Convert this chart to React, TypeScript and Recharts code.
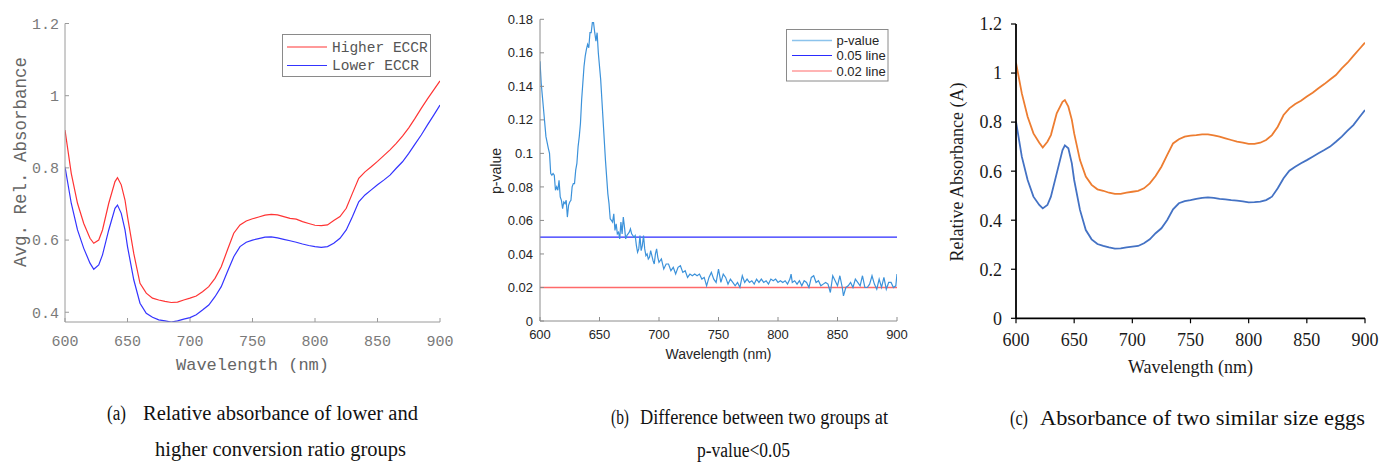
import React from 'react';
import { LineChart, Line, XAxis, YAxis, ReferenceLine, Legend, Label } from 'recharts';

// ---------- data ----------
const wavelengthAC = [
  600, 605, 610, 615, 620, 623, 627, 630, 635, 640, 642, 645, 648, 650,
  655, 660, 665, 670, 675, 680, 685, 690, 695, 700,
  705, 710, 715, 720, 725, 730, 735, 740, 745, 750,
  755, 760, 765, 770, 775, 780, 785, 790, 795, 800,
  805, 810, 815, 820, 825, 830, 835, 840, 845, 850,
  855, 860, 865, 870, 875, 880, 885, 890, 895, 900,
];
const higherECCR = [
  0.905, 0.785, 0.702, 0.646, 0.605, 0.591, 0.6, 0.628, 0.702, 0.762, 0.773, 0.753, 0.711, 0.665,
  0.563, 0.48, 0.453, 0.439, 0.434, 0.43, 0.427, 0.428, 0.434, 0.439,
  0.445, 0.457, 0.471, 0.494, 0.526, 0.573, 0.619, 0.642, 0.653, 0.659,
  0.664, 0.669, 0.671, 0.67, 0.665, 0.66, 0.658, 0.651, 0.646, 0.641,
  0.64, 0.642, 0.654, 0.665, 0.688, 0.73, 0.771, 0.789, 0.803, 0.818,
  0.834, 0.85, 0.868, 0.888, 0.911, 0.937, 0.965, 0.991, 1.016, 1.041,
];
const lowerECCR = [
  0.803, 0.702, 0.628, 0.577, 0.536, 0.519, 0.531, 0.559, 0.628, 0.688, 0.697, 0.674, 0.628, 0.582,
  0.49, 0.425, 0.397, 0.386, 0.379, 0.376, 0.373, 0.376, 0.381, 0.385,
  0.393, 0.406, 0.42, 0.443, 0.471, 0.513, 0.554, 0.582, 0.594, 0.6,
  0.604, 0.608, 0.609, 0.606, 0.602, 0.598, 0.594, 0.589, 0.585, 0.582,
  0.58, 0.582, 0.591, 0.605, 0.628, 0.665, 0.706, 0.725, 0.739, 0.753,
  0.766, 0.78, 0.799, 0.817, 0.84, 0.866, 0.891, 0.919, 0.946, 0.974,
];
const eggOrange = [
  1.042, 0.917, 0.822, 0.754, 0.716, 0.696, 0.72, 0.747, 0.836, 0.883, 0.89, 0.863, 0.809, 0.754,
  0.645, 0.578, 0.544, 0.526, 0.52, 0.512, 0.507, 0.507, 0.512, 0.516,
  0.52, 0.53, 0.55, 0.58, 0.618, 0.666, 0.713, 0.73, 0.741, 0.745,
  0.747, 0.75, 0.75, 0.746, 0.741, 0.734, 0.727, 0.72, 0.716, 0.711,
  0.711, 0.716, 0.727, 0.747, 0.781, 0.829, 0.856, 0.874, 0.887, 0.904,
  0.92, 0.938, 0.955, 0.974, 0.992, 1.019, 1.042, 1.07, 1.097, 1.124,
];
const eggBlue = [
  0.802, 0.659, 0.564, 0.496, 0.462, 0.448, 0.462, 0.496, 0.591, 0.686, 0.705, 0.693, 0.632, 0.564,
  0.442, 0.36, 0.322, 0.303, 0.295, 0.289, 0.284, 0.285, 0.289, 0.292,
  0.295, 0.306, 0.322, 0.347, 0.367, 0.401, 0.444, 0.469, 0.478, 0.482,
  0.487, 0.491, 0.493, 0.491, 0.487, 0.485, 0.482, 0.48, 0.477, 0.473,
  0.474, 0.476, 0.482, 0.496, 0.53, 0.571, 0.602, 0.618, 0.632, 0.645,
  0.659, 0.673, 0.686, 0.7, 0.72, 0.741, 0.765, 0.788, 0.819, 0.849,
];

const wavelengthB = [
  600, 601, 602, 603, 605, 607, 608, 609, 610, 611,
  612, 613, 614, 615, 616, 617, 618, 619, 620, 621,
  622, 623, 624, 625, 626, 627, 628, 629, 630, 631,
  632, 633, 634, 635, 636, 637, 638, 639, 640, 641,
  642, 643, 644, 645, 646, 647, 648, 649, 650, 651,
  652, 653, 654, 655, 656, 657, 658, 659, 660, 661,
  662, 663, 664, 665, 666, 667, 668, 669, 670, 671,
  672, 673, 674, 675, 676, 677, 678, 679, 680, 681,
  682, 683, 684, 685, 686, 687, 688, 689, 690, 691,
  692, 693, 694, 695, 696, 697, 698, 699, 700,
  702, 704, 706, 708, 710, 712, 714, 716, 718, 720,
  722, 724, 726, 728, 730, 732, 734, 736, 738, 740,
  742, 744, 746, 748, 750, 752, 754, 756, 758, 760,
  762, 764, 766, 768, 770, 772, 774, 776, 778, 780,
  782, 784, 786, 788, 790, 792, 794, 796, 798, 800,
  802, 804, 806, 808, 810,
  811, 812, 814, 816, 818, 820, 822, 824, 826, 828,
  830, 832, 834, 836, 838, 840, 842, 844, 846, 848,
  850, 852, 854,
  855, 857, 859, 861, 863, 865, 867, 869, 871, 873,
  875, 877, 879, 881, 883, 885, 887, 889, 891, 893,
  895, 897, 899, 900,
];
const pValue = [
  0.155, 0.142, 0.134, 0.126, 0.11, 0.103, 0.1, 0.088, 0.087, 0.088,
  0.087, 0.078, 0.08, 0.078, 0.084, 0.074, 0.072, 0.067, 0.071, 0.07,
  0.072, 0.062, 0.069, 0.071, 0.072, 0.08, 0.082, 0.082, 0.09, 0.094,
  0.104, 0.11, 0.118, 0.132, 0.142, 0.152, 0.158, 0.162, 0.165, 0.163,
  0.172, 0.172, 0.178, 0.178, 0.172, 0.167, 0.172, 0.16, 0.152, 0.144,
  0.132, 0.12, 0.108, 0.096, 0.086, 0.076, 0.07, 0.061, 0.06, 0.059,
  0.064, 0.054, 0.058, 0.052, 0.053, 0.049, 0.059, 0.052, 0.062, 0.056,
  0.049, 0.051, 0.052, 0.053, 0.055, 0.052, 0.051, 0.05, 0.051, 0.045,
  0.041, 0.043, 0.051, 0.042, 0.045, 0.051, 0.043, 0.039, 0.04, 0.037,
  0.038, 0.042, 0.039, 0.036, 0.034, 0.04, 0.043, 0.038, 0.035,
  0.037, 0.031, 0.034, 0.034, 0.03, 0.032, 0.028, 0.032, 0.033, 0.029,
  0.03, 0.026, 0.028, 0.027, 0.028, 0.027, 0.028, 0.025, 0.026, 0.021,
  0.026, 0.029, 0.025, 0.023, 0.031, 0.023, 0.028, 0.026, 0.022, 0.025,
  0.023, 0.021, 0.023, 0.02, 0.027, 0.023, 0.025, 0.023, 0.024, 0.022,
  0.025, 0.023, 0.025, 0.023, 0.024, 0.022, 0.025, 0.024, 0.025, 0.023,
  0.024, 0.023, 0.024, 0.022, 0.025,
  0.028, 0.023, 0.024, 0.022, 0.024, 0.021, 0.024, 0.023, 0.02, 0.026,
  0.027, 0.023, 0.024, 0.021, 0.022, 0.023, 0.022, 0.017, 0.027, 0.024,
  0.021, 0.027, 0.02,
  0.015, 0.02, 0.021, 0.023, 0.02, 0.025, 0.023, 0.021, 0.027, 0.02,
  0.02, 0.022, 0.027, 0.022, 0.019, 0.025, 0.02, 0.026, 0.019, 0.023,
  0.023, 0.02, 0.021, 0.028,
];
const line05 = 0.05;
const line02 = 0.02;

const xTicks = [600, 650, 700, 750, 800, 850, 900];
const yTicksA = [0.4, 0.6, 0.8, 1, 1.2];
const yTicksB = [0, 0.02, 0.04, 0.06, 0.08, 0.1, 0.12, 0.14, 0.16, 0.18];
const yTicksC = [0, 0.2, 0.4, 0.6, 0.8, 1, 1.2];

const legendA = ['Higher ECCR', 'Lower ECCR'];
const legendB = ['p-value', '0.05 line', '0.02 line'];

const dataA = wavelengthAC.map((wl, i) => ({ wl, high: higherECCR[i], low: lowerECCR[i] }));
const dataB = wavelengthB.map((wl, i) => ({ wl, p: pValue[i] }));
const dataC = wavelengthAC.map((wl, i) => ({ wl, orange: eggOrange[i], blue: eggBlue[i] }));

// ---------- styles ----------
const MONO = "'Liberation Mono', 'DejaVu Sans Mono', monospace";
const SANS = "'Liberation Sans', Arial, sans-serif";
const SERIF = "'Liberation Serif', 'Times New Roman', serif";

const RED_A = '#ff3434';
const BLUE_A = '#3434ff';
const GRAY_BOX_A = '#9a9a9a';
const P_BLUE = '#3c92da';
const LINE05 = '#2b2bff';
const LINE02 = '#ff6a6a';
const ORANGE_C = '#ed7d31';
const BLUE_C = '#4472c4';

const LegendBoxA = () => (
  <svg width={149} height={43} style={{ display: 'block' }}>
    <rect x={0.5} y={0.5} width={148} height={42} fill="#fff" stroke="#8a8a8a" strokeWidth={1} />
    <line x1={5} x2={45} y1={13} y2={13} stroke={RED_A} strokeWidth={1.2} />
    <text x={50} y={17.6} fontFamily={MONO} fontSize={14.5} fill="#555">{legendA[0]}</text>
    <line x1={5} x2={45} y1={31.5} y2={31.5} stroke={BLUE_A} strokeWidth={1.2} />
    <text x={50} y={36.2} fontFamily={MONO} fontSize={14.5} fill="#555">{legendA[1]}</text>
  </svg>
);

const LegendBoxB = () => (
  <svg width={103} height={53} style={{ display: 'block' }}>
    <rect x={0.5} y={0.5} width={101.5} height={51.5} fill="#fff" stroke="#8a8a8a" strokeWidth={1} />
    <line x1={6} x2={46} y1={11.5} y2={11.5} stroke="#8cc3ec" strokeWidth={1.6} />
    <text x={50.5} y={16} fontFamily={SANS} fontSize={13} fill="#262626">{legendB[0]}</text>
    <line x1={6} x2={46} y1={26.5} y2={26.5} stroke={LINE05} strokeWidth={1.2} />
    <text x={50.5} y={31} fontFamily={SANS} fontSize={13} fill="#262626">{legendB[1]}</text>
    <line x1={6} x2={46} y1={42} y2={42} stroke={LINE02} strokeWidth={1.2} />
    <text x={50.5} y={46.5} fontFamily={SANS} fontSize={13} fill="#262626">{legendB[2]}</text>
  </svg>
);

const ChartA = () => (
  <LineChart width={460} height={390} data={dataA} margin={{ top: 23.5, right: 20, bottom: 0, left: 0 }}>
    <XAxis xAxisId="b" dataKey="wl" type="number" domain={[600, 900]} ticks={xTicks} interval={0}
      height={68} tickSize={-4} tickMargin={17} allowDataOverflow
      axisLine={{ stroke: GRAY_BOX_A }} tickLine={{ stroke: GRAY_BOX_A }}
      tick={{ fill: '#7a7a7a', fontSize: 15, fontFamily: MONO }}>
      <Label content={() => (
        <text x={252.5} y={370} textAnchor="middle" fontFamily={MONO} fontSize={17} fill="#666">Wavelength (nm)</text>
      )} />
    </XAxis>
    <XAxis xAxisId="t" orientation="top" dataKey="wl" type="number" domain={[600, 900]} ticks={xTicks} interval={0}
      height={0} tickSize={-4} tick={false} allowDataOverflow
      axisLine={{ stroke: GRAY_BOX_A }} tickLine={{ stroke: GRAY_BOX_A }} />
    <YAxis yAxisId="l" type="number" domain={[0.373, 1.2]} ticks={yTicksA} interval={0} allowDataOverflow
      width={65} tickSize={-4} tickMargin={10}
      axisLine={{ stroke: GRAY_BOX_A }} tickLine={{ stroke: GRAY_BOX_A }}
      tick={{ fill: '#7a7a7a', fontSize: 15, fontFamily: MONO }}>
      <Label content={() => (
        <text x={26} y={162} transform="rotate(-90 26 162)" textAnchor="middle" fontFamily={MONO} fontSize={17.5} fill="#666">Avg. Rel. Absorbance</text>
      )} />
    </YAxis>
    <YAxis yAxisId="r" orientation="right" type="number" domain={[0.373, 1.2]} ticks={yTicksA} interval={0} allowDataOverflow
      width={0} tickSize={-4} tick={false}
      axisLine={{ stroke: GRAY_BOX_A }} tickLine={{ stroke: GRAY_BOX_A }} />
    <Legend layout="vertical" align="center" verticalAlign="middle" content={() => <LegendBoxA />}
      wrapperStyle={{ left: 282, top: 33.5, width: 149, height: 43 }} />
    <Line xAxisId="b" yAxisId="l" type="linear" dataKey="high" stroke={RED_A} strokeWidth={1.2} dot={false} isAnimationActive={false} />
    <Line xAxisId="b" yAxisId="l" type="linear" dataKey="low" stroke={BLUE_A} strokeWidth={1.2} dot={false} isAnimationActive={false} />
  </LineChart>
);

const BOX_B = '#8c8c8c';
const ChartB = () => (
  <LineChart width={440} height={390} data={dataB} margin={{ top: 19.3, right: 23, bottom: 0, left: 0 }}>
    <XAxis xAxisId="b" dataKey="wl" type="number" domain={[600, 900]} ticks={xTicks} interval={0}
      height={69} tickSize={-4} tickMargin={13} allowDataOverflow
      axisLine={{ stroke: BOX_B }} tickLine={{ stroke: BOX_B }}
      tick={{ fill: '#262626', fontSize: 13, fontFamily: SANS }}>
      <Label content={() => (
        <text x={238.5} y={359} textAnchor="middle" fontFamily={SANS} fontSize={14} fill="#262626">Wavelength (nm)</text>
      )} />
    </XAxis>
    <XAxis xAxisId="t" orientation="top" dataKey="wl" type="number" domain={[600, 900]} ticks={xTicks} interval={0}
      height={0} tickSize={-4} tick={false} allowDataOverflow
      axisLine={{ stroke: BOX_B }} tickLine={{ stroke: BOX_B }} />
    <YAxis yAxisId="l" type="number" domain={[0, 0.18]} ticks={yTicksB} interval={0} allowDataOverflow
      width={60} tickSize={-4} tickMargin={11}
      axisLine={{ stroke: BOX_B }} tickLine={{ stroke: BOX_B }}
      tick={{ fill: '#262626', fontSize: 13, fontFamily: SANS }}>
      <Label content={() => (
        <text x={20.5} y={171} transform="rotate(-90 20.5 171)" textAnchor="middle" fontFamily={SANS} fontSize={14} fill="#262626">p-value</text>
      )} />
    </YAxis>
    <YAxis yAxisId="r" orientation="right" type="number" domain={[0, 0.18]} ticks={yTicksB} interval={0} allowDataOverflow
      width={0} tickSize={-4} tick={false}
      axisLine={{ stroke: BOX_B }} tickLine={{ stroke: BOX_B }} />
    <Legend layout="vertical" align="center" verticalAlign="middle" content={() => <LegendBoxB />}
      wrapperStyle={{ left: 305.5, top: 29, width: 103, height: 53 }} />
    <ReferenceLine xAxisId="b" yAxisId="l" y={line05} stroke={LINE05} strokeWidth={1.2} />
    <ReferenceLine xAxisId="b" yAxisId="l" y={line02} stroke={LINE02} strokeWidth={1.6} />
    <Line xAxisId="b" yAxisId="l" type="linear" dataKey="p" stroke={P_BLUE} strokeWidth={1.2} dot={false} isAnimationActive={false} />
  </LineChart>
);

const ChartC = () => (
  <LineChart width={440} height={390} data={dataC} margin={{ top: 24, right: 15, bottom: 0, left: 0 }}>
    <XAxis xAxisId="b" dataKey="wl" type="number" domain={[600, 900]} ticks={xTicks} interval={0}
      height={71.7} tickSize={5} tickMargin={10} allowDataOverflow
      axisLine={{ stroke: '#000', strokeWidth: 1.8 }} tickLine={{ stroke: '#000', strokeWidth: 1.2 }}
      tick={{ fill: '#1a1a1a', fontSize: 18, fontFamily: SERIF }}>
      <Label content={() => (
        <text x={250.5} y={373} textAnchor="middle" fontFamily={SERIF} fontSize={18} fill="#1a1a1a">Wavelength (nm)</text>
      )} />
    </XAxis>
    <XAxis xAxisId="t" orientation="top" dataKey="wl" type="number" domain={[600, 900]} ticks={xTicks}
      height={0} tick={false} tickLine={false} allowDataOverflow
      axisLine={{ stroke: '#000', strokeWidth: 1 }} />
    <YAxis yAxisId="l" type="number" domain={[0, 1.2]} ticks={yTicksC} interval={0} allowDataOverflow
      width={76} tickSize={5} tickMargin={9}
      axisLine={{ stroke: '#000', strokeWidth: 1.8 }} tickLine={{ stroke: '#000', strokeWidth: 1.2 }}
      tick={{ fill: '#1a1a1a', fontSize: 18, fontFamily: SERIF }}>
      <Label content={() => (
        <text x={22.5} y={172} transform="rotate(-90 22.5 172)" textAnchor="middle" fontFamily={SERIF} fontSize={18} fill="#1a1a1a">Relative Absorbance (A)</text>
      )} />
    </YAxis>
    <YAxis yAxisId="r" orientation="right" type="number" domain={[0, 1.2]} ticks={yTicksC}
      width={0} tick={false} tickLine={false} allowDataOverflow
      axisLine={{ stroke: '#000', strokeWidth: 1 }} />
    <Line xAxisId="b" yAxisId="l" type="linear" dataKey="orange" stroke={ORANGE_C} strokeWidth={1.8} dot={false} isAnimationActive={false} />
    <Line xAxisId="b" yAxisId="l" type="linear" dataKey="blue" stroke={BLUE_C} strokeWidth={1.8} dot={false} isAnimationActive={false} />
  </LineChart>
);

const captions = [
  { t: '(a)', x: 107, y: 420, w: 19 },
  { t: 'Relative absorbance of lower and', x: 143, y: 420, w: 275 },
  { t: 'higher conversion ratio groups', x: 155, y: 456, w: 251 },
  { t: '(b)', x: 611, y: 424, w: 18 },
  { t: 'Difference between two groups at', x: 640, y: 424, w: 248 },
  { t: 'p-value<0.05', x: 697, y: 457, w: 93 },
  { t: '(c)', x: 1010, y: 425, w: 18 },
  { t: 'Absorbance of two similar size eggs', x: 1040, y: 425, w: 325 },
];

export default function App() {
  return (
    <div style={{ position: 'absolute', left: 0, top: 0, width: 1380, height: 463, background: '#fff', overflow: 'hidden' }}>
      <div style={{ position: 'absolute', left: 0, top: 0 }}><ChartA /></div>
      <div style={{ position: 'absolute', left: 480, top: 0 }}><ChartB /></div>
      <div style={{ position: 'absolute', left: 940, top: 0 }}><ChartC /></div>
      <svg width={1380} height={73} style={{ position: 'absolute', left: 0, top: 390 }}>
        {captions.map((c, i) => (
          <text key={i} x={c.x} y={c.y - 390} fontFamily={SERIF} fontSize={20} fill="#111"
            textLength={c.w} lengthAdjust="spacingAndGlyphs">{c.t}</text>
        ))}
      </svg>
    </div>
  );
}
